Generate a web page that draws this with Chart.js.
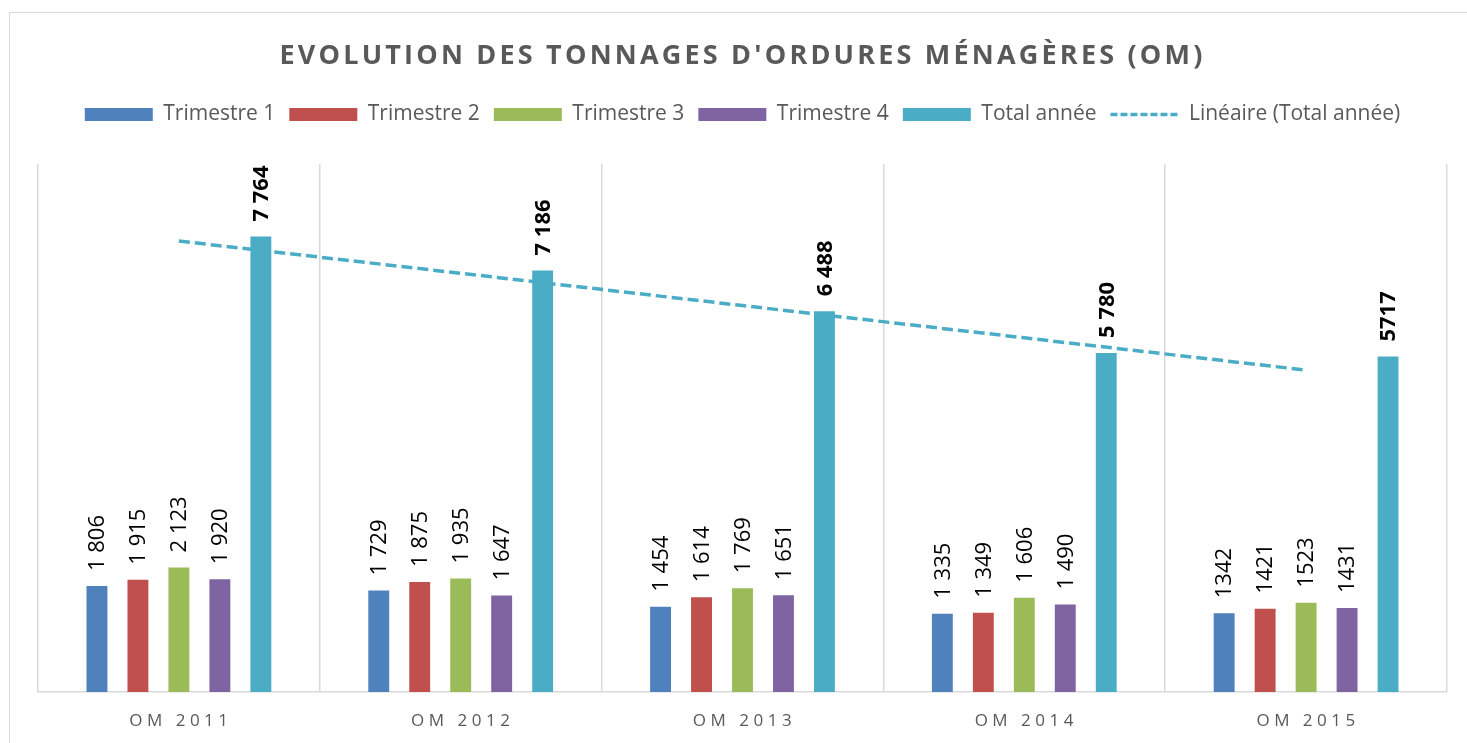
<!DOCTYPE html>
<html>
<head>
<meta charset="utf-8">
<script src="https://cdn.jsdelivr.net/npm/chart.js@4.4.0/dist/chart.umd.min.js"></script>
<style>
  html, body { margin: 0; padding: 0; background: #fff; }
  #wrap { width: 1467px; height: 743px; }
</style>
</head>
<body>
<div id="wrap"><canvas id="omChart" width="1467" height="743"></canvas></div>
<script>
    // Données
    const annees = ['OM 2011', 'OM 2012', 'OM 2013', 'OM 2014', 'OM 2015'];
    const trimestre1 = [1806, 1729, 1454, 1335, 1342];
    const trimestre2 = [1915, 1875, 1614, 1349, 1421];
    const trimestre3 = [2123, 1935, 1769, 1606, 1523];
    const trimestre4 = [1920, 1647, 1651, 1490, 1431];
    const totalAnnee = [7764, 7186, 6488, 5780, 5717];
    const lineaireTotal = [7687, 7137, 6587, 6037, 5487];
    // 2015 est affiché sans séparateur de milliers
    const separateurs = [' ', ' ', ' ', ' ', ''];

    const titre = "EVOLUTION DES TONNAGES D'ORDURES MÉNAGÈRES (OM)";
    const gris = '#595959';
    const police = '"Open Sans", "DejaVu Sans", sans-serif';

    function formatValeur(v, i) {
        if (v < 1000) return String(v);
        return Math.floor(v / 1000) + separateurs[i] + String(v % 1000).padStart(3, '0');
    }

    /** Cadre extérieur + titre espacé */
    const cadrePlugin = {
        id: 'cadre',
        beforeDraw(chart) {
            const ctx = chart.ctx;
            ctx.save();
            ctx.fillStyle = '#fff';
            ctx.fillRect(0, 0, chart.width, chart.height);
            ctx.strokeStyle = '#d9d9d9';
            ctx.lineWidth = 1;
            ctx.strokeRect(9.5, 12.5, chart.width, chart.height);
            ctx.restore();
        },
        afterDraw(chart) {
            const ctx = chart.ctx;
            const area = chart.chartArea;
            ctx.save();
            ctx.fillStyle = gris;
            ctx.textAlign = 'center';
            ctx.textBaseline = 'middle';
            ctx.font = 'bold 27px ' + police;
            ctx.letterSpacing = '3.2px';
            ctx.fillText(titre, (area.left + area.right) / 2, 56);

            // étiquettes de l'axe X
            const xScale = chart.scales.x;
            ctx.font = '17px ' + police;
            ctx.letterSpacing = '4.5px';
            annees.forEach((a, i) => {
                ctx.fillText(a, xScale.getPixelForTick(i) + 2, 721);
            });
            ctx.restore();
        }
    };

    /** Étiquettes de valeurs verticales au-dessus des barres */
    const etiquettesPlugin = {
        id: 'etiquettes',
        afterDatasetsDraw(chart) {
            const ctx = chart.ctx;
            chart.data.datasets.forEach((ds, di) => {
                if (ds.type === 'line') return;
                const meta = chart.getDatasetMeta(di);
                meta.data.forEach((bar, i) => {
                    ctx.save();
                    ctx.translate(bar.x, bar.y - 15);
                    ctx.rotate(-Math.PI / 2);
                    ctx.fillStyle = '#000';
                    ctx.font = (ds.gras ? 'bold ' : '') + '22px ' + police;
                    ctx.textAlign = 'left';
                    ctx.textBaseline = 'middle';
                    ctx.fillText(formatValeur(ds.data[i], i), 0, 1);
                    ctx.restore();
                });
            });
        }
    };

    function barre(label, data, couleur, gras) {
        return {
            type: 'bar',
            label,
            data,
            backgroundColor: couleur,
            borderWidth: 0,
            categoryPercentage: 0.727,
            barPercentage: 0.51,
            gras: !!gras,
            order: 2
        };
    }

    new Chart(document.getElementById('omChart'), {
        type: 'bar',
        data: {
            labels: annees,
            datasets: [
                barre('Trimestre 1', trimestre1, '#4f81bd'),
                barre('Trimestre 2', trimestre2, '#c0504d'),
                barre('Trimestre 3', trimestre3, '#9bbb59'),
                barre('Trimestre 4', trimestre4, '#8064a2'),
                barre('Total année', totalAnnee, '#4bacc6', true),
                {
                    type: 'line',
                    label: 'Linéaire (Total année)',
                    data: lineaireTotal,
                    borderColor: '#4bacc6',
                    backgroundColor: '#4bacc6',
                    borderWidth: 3.5,
                    borderDash: [11, 5],
                    pointRadius: 0,
                    fill: false,
                    tension: 0,
                    order: 1
                }
            ]
        },
        options: {
            responsive: false,
            animation: false,
            layout: {
                padding: { top: 90, left: 38, right: 20, bottom: 51 }
            },
            plugins: {
                title: { display: false },
                subtitle: {
                    display: true,
                    text: '',
                    weight: 500,
                    padding: 0,
                    font: { size: 29, lineHeight: 1 }
                },
                tooltip: { enabled: false },
                legend: {
                    position: 'top',
                    labels: {
                        color: gris,
                        font: { family: police, size: 21 },
                        usePointStyle: true,
                        pointStyleWidth: 68,
                        boxHeight: 13,
                        padding: 14,
                        sort: (a, b) => a.datasetIndex - b.datasetIndex,
                        generateLabels(chart) {
                            const items = Chart.defaults.plugins.legend.labels.generateLabels(chart);
                            return items.map(it => {
                                const ds = chart.data.datasets[it.datasetIndex];
                                if (ds.type === 'line') {
                                    it.pointStyle = 'line';
                                    it.lineWidth = 3.5;
                                    it.lineDash = [7, 3];
                                    it.strokeStyle = '#4bacc6';
                                } else {
                                    it.pointStyle = 'rect';
                                    it.lineWidth = 0;
                                }
                                return it;
                            });
                        }
                    }
                }
            },
            scales: {
                x: {
                    grid: {
                        color: '#d9d9d9',
                        lineWidth: 1.5,
                        drawTicks: false,
                        offset: true
                    },
                    border: { color: '#d9d9d9', width: 1.5 },
                    ticks: { display: false }
                },
                y: {
                    display: false,
                    min: 0,
                    max: 9000
                }
            }
        },
        plugins: [cadrePlugin, etiquettesPlugin]
    });
</script>
</body>
</html>
